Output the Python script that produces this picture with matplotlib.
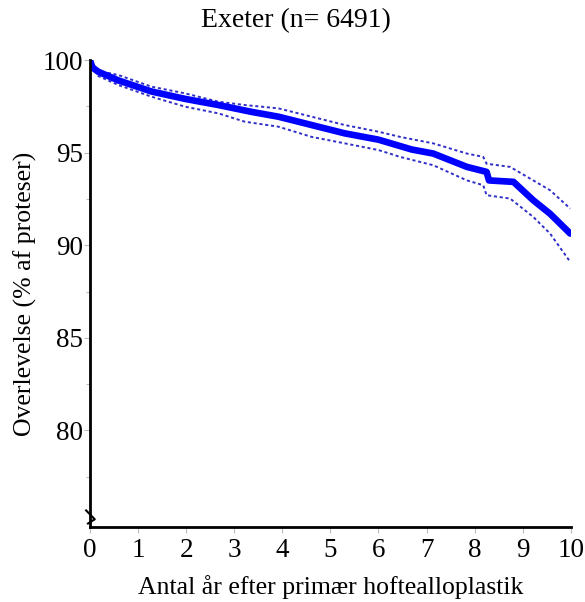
import numpy as np
import matplotlib.pyplot as plt
from matplotlib.ticker import MultipleLocator

# survival curve (Kaplan-Meier)
years = [0, 0.05, 0.17, 0.59, 1.28, 1.98, 2.67, 3.36, 3.92, 4.61, 5.30, 6.00,
         6.69, 7.14, 7.84, 8.25, 8.30, 8.81, 9.22, 9.57, 9.99]
survival = [100, 99.6, 99.37, 98.9, 98.3, 97.9, 97.57, 97.2, 96.94, 96.49, 96.04, 95.7,
            95.17, 94.95, 94.23, 93.96, 93.5, 93.42, 92.43, 91.7, 90.63]

ci_years = [0, 0.17, 0.59, 1.28, 1.98, 2.67, 3.22, 3.92, 4.61, 5.30, 6.00, 6.45,
            7.14, 7.84, 8.18, 8.25, 8.74, 9.22, 9.57, 9.99]
ci_upper = [100, 99.42, 99.19, 98.56, 98.2, 97.75, 97.57, 97.39, 96.94, 96.49, 96.13, 95.85,
            95.5, 94.95, 94.77, 94.4, 94.23, 93.5, 92.97, 91.98]
ci_lower = [100, 99.14, 98.65, 98.02, 97.48, 97.12, 96.67, 96.4, 95.85, 95.5, 95.14, 94.77,
            94.32, 93.5, 93.24, 92.7, 92.52, 91.53, 90.63, 89.1]

title = 'Exeter (n= 6491)'
xlabel = 'Antal år efter primær hoftealloplastik'
ylabel = 'Overlevelse (% af proteser)'

plt.rcParams['font.family'] = ['Liberation Serif', 'DejaVu Serif']

fig = plt.figure(figsize=(5.85, 6.02), dpi=100)
ax = fig.add_axes([0.1538, 0.125, 0.8218, 0.7753])

ax.plot(ci_years, ci_upper, color='#3030c8', lw=1.4, ls=(0, (1.6, 1.4)))
ax.plot(ci_years, ci_lower, color='#3030c8', lw=1.4, ls=(0, (1.6, 1.4)))
ax.plot(years, survival, color='#0000ff', lw=4.8, solid_capstyle='round')

ax.set_xlim(0, 10)
ax.set_ylim(74.8, 100)
ax.set_xticks(range(0, 11))
ax.set_yticks([80, 85, 90, 95, 100])
ax.yaxis.set_minor_locator(MultipleLocator(2.5))

for side in ['top', 'right']:
    ax.spines[side].set_visible(False)
for side in ['left', 'bottom']:
    ax.spines[side].set_linewidth(2)
    ax.spines[side].set_color('black')

ax.tick_params(axis='both', which='major', length=4, width=0.8, color='#bbbbbb',
               labelsize=19.5)
ax.tick_params(axis='y', which='major', pad=1)
ax.tick_params(axis='x', which='major', pad=4)
ax.tick_params(axis='y', which='minor', length=3, width=0.8, color='#bbbbbb')

# axis break mark at the bottom of the y axis
ax.plot([-0.008, 0.01, -0.004], [0.035, 0.016, 0.007], transform=ax.transAxes,
        color='black', lw=1.5, clip_on=False)

ax.set_xlabel(xlabel, fontsize=18.5, labelpad=9)
ax.set_ylabel(ylabel, fontsize=18.5, labelpad=4)
fig.text(0.506, 0.966, title, ha='center', va='center', fontsize=20)

fig.savefig('out.png', dpi=100)
